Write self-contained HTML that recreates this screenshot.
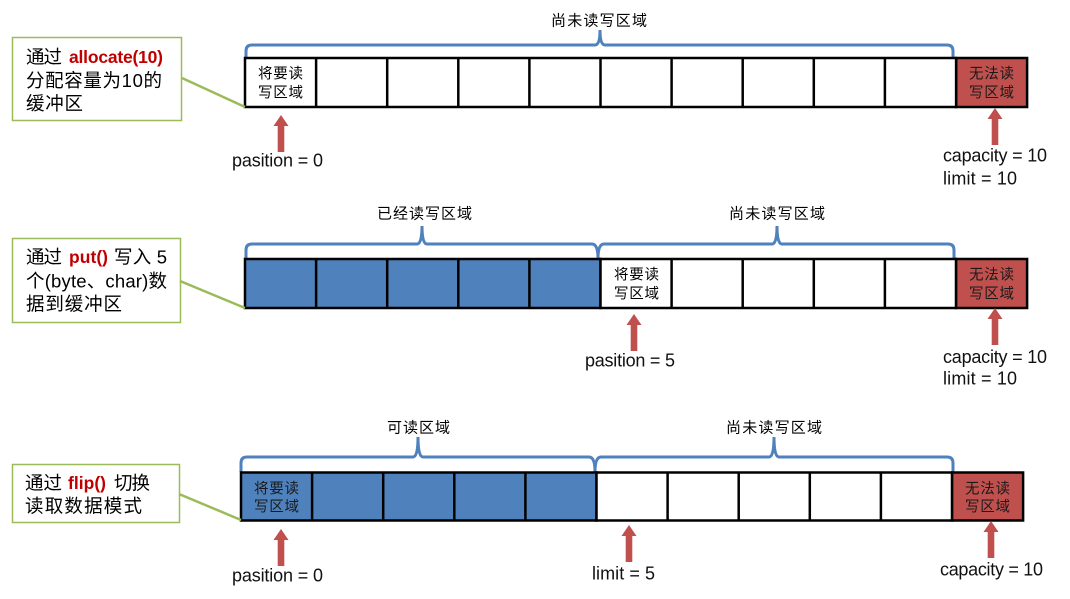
<!DOCTYPE html>
<html><head><meta charset="utf-8"><style>
html,body{margin:0;padding:0;background:#fff;}
svg{display:block;}
text{font-family:"Liberation Sans","Noto Sans CJK SC",sans-serif;}
</style></head><body>
<svg width="1070" height="599" viewBox="0 0 1070 599" xmlns="http://www.w3.org/2000/svg">
<defs>
<g id="arrow"><polygon points="0,0 7.5,11 3.3,11 3.3,37 -3.3,37 -3.3,11 -7.5,11" fill="#C0504D"/></g>
</defs>
<rect width="1070" height="599" fill="#fff"/>

<!-- ================= ROW 1 ================= -->
<text x="551" y="25.5" font-size="15" textLength="96" fill="#000">尚未读写区域</text>
<path d="M246,58 L246,51 Q246,45 252,45 L595,45 Q600,45 600,30 Q600,45 605,45 L947,45 Q953,45 953,51 L953,58" fill="none" stroke="#4F81BD" stroke-width="3"/>
<g stroke="#000" stroke-width="2.5">
<rect x="956.1" y="58" width="71" height="49" fill="#C0504D"/>
<rect x="245" y="58" width="711.1" height="49" fill="#fff"/>
<line x1="316.1" y1="58" x2="316.1" y2="107"/>
<line x1="387.2" y1="58" x2="387.2" y2="107"/>
<line x1="458.3" y1="58" x2="458.3" y2="107"/>
<line x1="529.4" y1="58" x2="529.4" y2="107"/>
<line x1="600.5" y1="58" x2="600.5" y2="107"/>
<line x1="671.6" y1="58" x2="671.6" y2="107"/>
<line x1="742.7" y1="58" x2="742.7" y2="107"/>
<line x1="813.8" y1="58" x2="813.8" y2="107"/>
<line x1="884.9" y1="58" x2="884.9" y2="107"/>
</g>
<text x="258" y="78.5" font-size="14.5" textLength="45" fill="#000">将要读</text>
<text x="258" y="97.5" font-size="14.5" textLength="45" fill="#000">写区域</text>
<text x="969" y="78.5" font-size="14.5" textLength="45" fill="#1a1a1a">无法读</text>
<text x="969" y="97.5" font-size="14.5" textLength="45" fill="#1a1a1a">写区域</text>

<rect x="12.5" y="37.5" width="169" height="83" fill="#fff" stroke="#9BBB59" stroke-width="1.5"/>
<line x1="182" y1="78" x2="245" y2="107" stroke="#9BBB59" stroke-width="2.5"/>
<text x="26" y="63.5" font-size="18.5" textLength="36" fill="#000">通过</text>
<text x="69" y="63" font-size="17.5" font-weight="bold" textLength="94" fill="#C00000">allocate(10)</text>
<text x="26" y="87" font-size="18.5" textLength="136" fill="#000">分配容量为10的</text>
<text x="26" y="110" font-size="18.5" textLength="57" fill="#000">缓冲区</text>

<use href="#arrow" x="281" y="115"/>
<text x="232" y="166.5" font-size="18" textLength="91" fill="#111">pasition = 0</text>
<use href="#arrow" x="995" y="108"/>
<text x="943" y="161.5" font-size="18" textLength="104" fill="#111">capacity = 10</text>
<text x="943" y="184.5" font-size="18" textLength="74" fill="#111">limit = 10</text>

<!-- ================= ROW 2 ================= -->
<text x="377" y="218.5" font-size="15" textLength="95" fill="#000">已经读写区域</text>
<text x="729" y="218.5" font-size="15" textLength="96" fill="#000">尚未读写区域</text>
<path d="M246,259 L246,250 Q246,244 252,244 L417,244 Q422,244 422,226 Q422,244 427,244 L592,244 Q598,244 598,259 Q598,244 604,244 L772,244 Q777,244 777,226 Q777,244 782,244 L948,244 Q954,244 954,250 L954,259" fill="none" stroke="#4F81BD" stroke-width="3"/>
<g stroke="#000" stroke-width="2.5">
<rect x="245" y="259" width="355.5" height="49" fill="#4F81BD"/>
<rect x="600.5" y="259" width="355.6" height="49" fill="#fff"/>
<rect x="956.1" y="259" width="71" height="49" fill="#C0504D"/>
<line x1="316.1" y1="259" x2="316.1" y2="308"/>
<line x1="387.2" y1="259" x2="387.2" y2="308"/>
<line x1="458.3" y1="259" x2="458.3" y2="308"/>
<line x1="529.4" y1="259" x2="529.4" y2="308"/>
<line x1="671.6" y1="259" x2="671.6" y2="308"/>
<line x1="742.7" y1="259" x2="742.7" y2="308"/>
<line x1="813.8" y1="259" x2="813.8" y2="308"/>
<line x1="884.9" y1="259" x2="884.9" y2="308"/>
</g>
<text x="614" y="279.5" font-size="14.5" textLength="45" fill="#000">将要读</text>
<text x="614" y="298.5" font-size="14.5" textLength="45" fill="#000">写区域</text>
<text x="969" y="279.5" font-size="14.5" textLength="45" fill="#1a1a1a">无法读</text>
<text x="969" y="298.5" font-size="14.5" textLength="45" fill="#1a1a1a">写区域</text>

<rect x="12.5" y="238.5" width="168" height="84" fill="#fff" stroke="#9BBB59" stroke-width="1.5"/>
<line x1="180" y1="281" x2="245" y2="308" stroke="#9BBB59" stroke-width="2.5"/>
<text x="26" y="263.5" font-size="18.5" textLength="36" fill="#000">通过</text>
<text x="69" y="263" font-size="17.5" font-weight="bold" textLength="39" fill="#C00000">put()</text>
<text x="114" y="263.5" font-size="18.5" textLength="53" fill="#000">写入 5</text>
<text x="26" y="287.5" font-size="18.5" textLength="141" fill="#000">个(byte、char)数</text>
<text x="26" y="310.5" font-size="18.5" textLength="96" fill="#000">据到缓冲区</text>

<use href="#arrow" x="634" y="314"/>
<text x="585" y="366.5" font-size="18" textLength="90" fill="#111">pasition = 5</text>
<use href="#arrow" x="995" y="308"/>
<text x="943" y="363" font-size="18" textLength="104" fill="#111">capacity = 10</text>
<text x="943" y="384.5" font-size="18" textLength="74" fill="#111">limit = 10</text>

<!-- ================= ROW 3 ================= -->
<text x="387" y="432.5" font-size="15" textLength="63" fill="#000">可读区域</text>
<text x="726" y="432.5" font-size="15" textLength="96" fill="#000">尚未读写区域</text>
<path d="M241,472 L241,463 Q241,457 247,457 L413,457 Q418,457 418,437 Q418,457 423,457 L589,457 Q595,457 595,472 Q595,457 601,457 L769,457 Q774,457 774,437 Q774,457 779,457 L947,457 Q953,457 953,463 L953,472" fill="none" stroke="#4F81BD" stroke-width="3"/>
<g stroke="#000" stroke-width="2.5">
<rect x="241" y="472.5" width="355.5" height="48" fill="#4F81BD"/>
<rect x="596.5" y="472.5" width="355.6" height="48" fill="#fff"/>
<rect x="952.1" y="472.5" width="71" height="48" fill="#C0504D"/>
<line x1="312.1" y1="472.5" x2="312.1" y2="520.5"/>
<line x1="383.2" y1="472.5" x2="383.2" y2="520.5"/>
<line x1="454.3" y1="472.5" x2="454.3" y2="520.5"/>
<line x1="525.4" y1="472.5" x2="525.4" y2="520.5"/>
<line x1="667.6" y1="472.5" x2="667.6" y2="520.5"/>
<line x1="738.7" y1="472.5" x2="738.7" y2="520.5"/>
<line x1="809.8" y1="472.5" x2="809.8" y2="520.5"/>
<line x1="880.9" y1="472.5" x2="880.9" y2="520.5"/>
</g>
<text x="254" y="493.5" font-size="14.5" textLength="45" fill="#1a1a1a">将要读</text>
<text x="254" y="511.5" font-size="14.5" textLength="45" fill="#1a1a1a">写区域</text>
<text x="965" y="493.5" font-size="14.5" textLength="45" fill="#1a1a1a">无法读</text>
<text x="965" y="511.5" font-size="14.5" textLength="45" fill="#1a1a1a">写区域</text>

<rect x="12.5" y="464.5" width="167" height="58" fill="#fff" stroke="#9BBB59" stroke-width="1.5"/>
<line x1="179" y1="494" x2="241" y2="520" stroke="#9BBB59" stroke-width="2.5"/>
<text x="25" y="489.5" font-size="18.5" textLength="37" fill="#000">通过</text>
<text x="68" y="489" font-size="17.5" font-weight="bold" textLength="38" fill="#C00000">flip()</text>
<text x="114" y="489.5" font-size="18.5" textLength="36" fill="#000">切换</text>
<text x="25" y="512.5" font-size="18.5" textLength="117" fill="#000">读取数据模式</text>

<use href="#arrow" x="281" y="529"/>
<text x="232" y="581.5" font-size="18" textLength="91" fill="#111">pasition = 0</text>
<use href="#arrow" x="629" y="525"/>
<text x="592" y="579.5" font-size="18" textLength="63" fill="#111">limit = 5</text>
<use href="#arrow" x="991" y="521"/>
<text x="940" y="575.5" font-size="18" textLength="103" fill="#111">capacity = 10</text>
</svg>
</body></html>
